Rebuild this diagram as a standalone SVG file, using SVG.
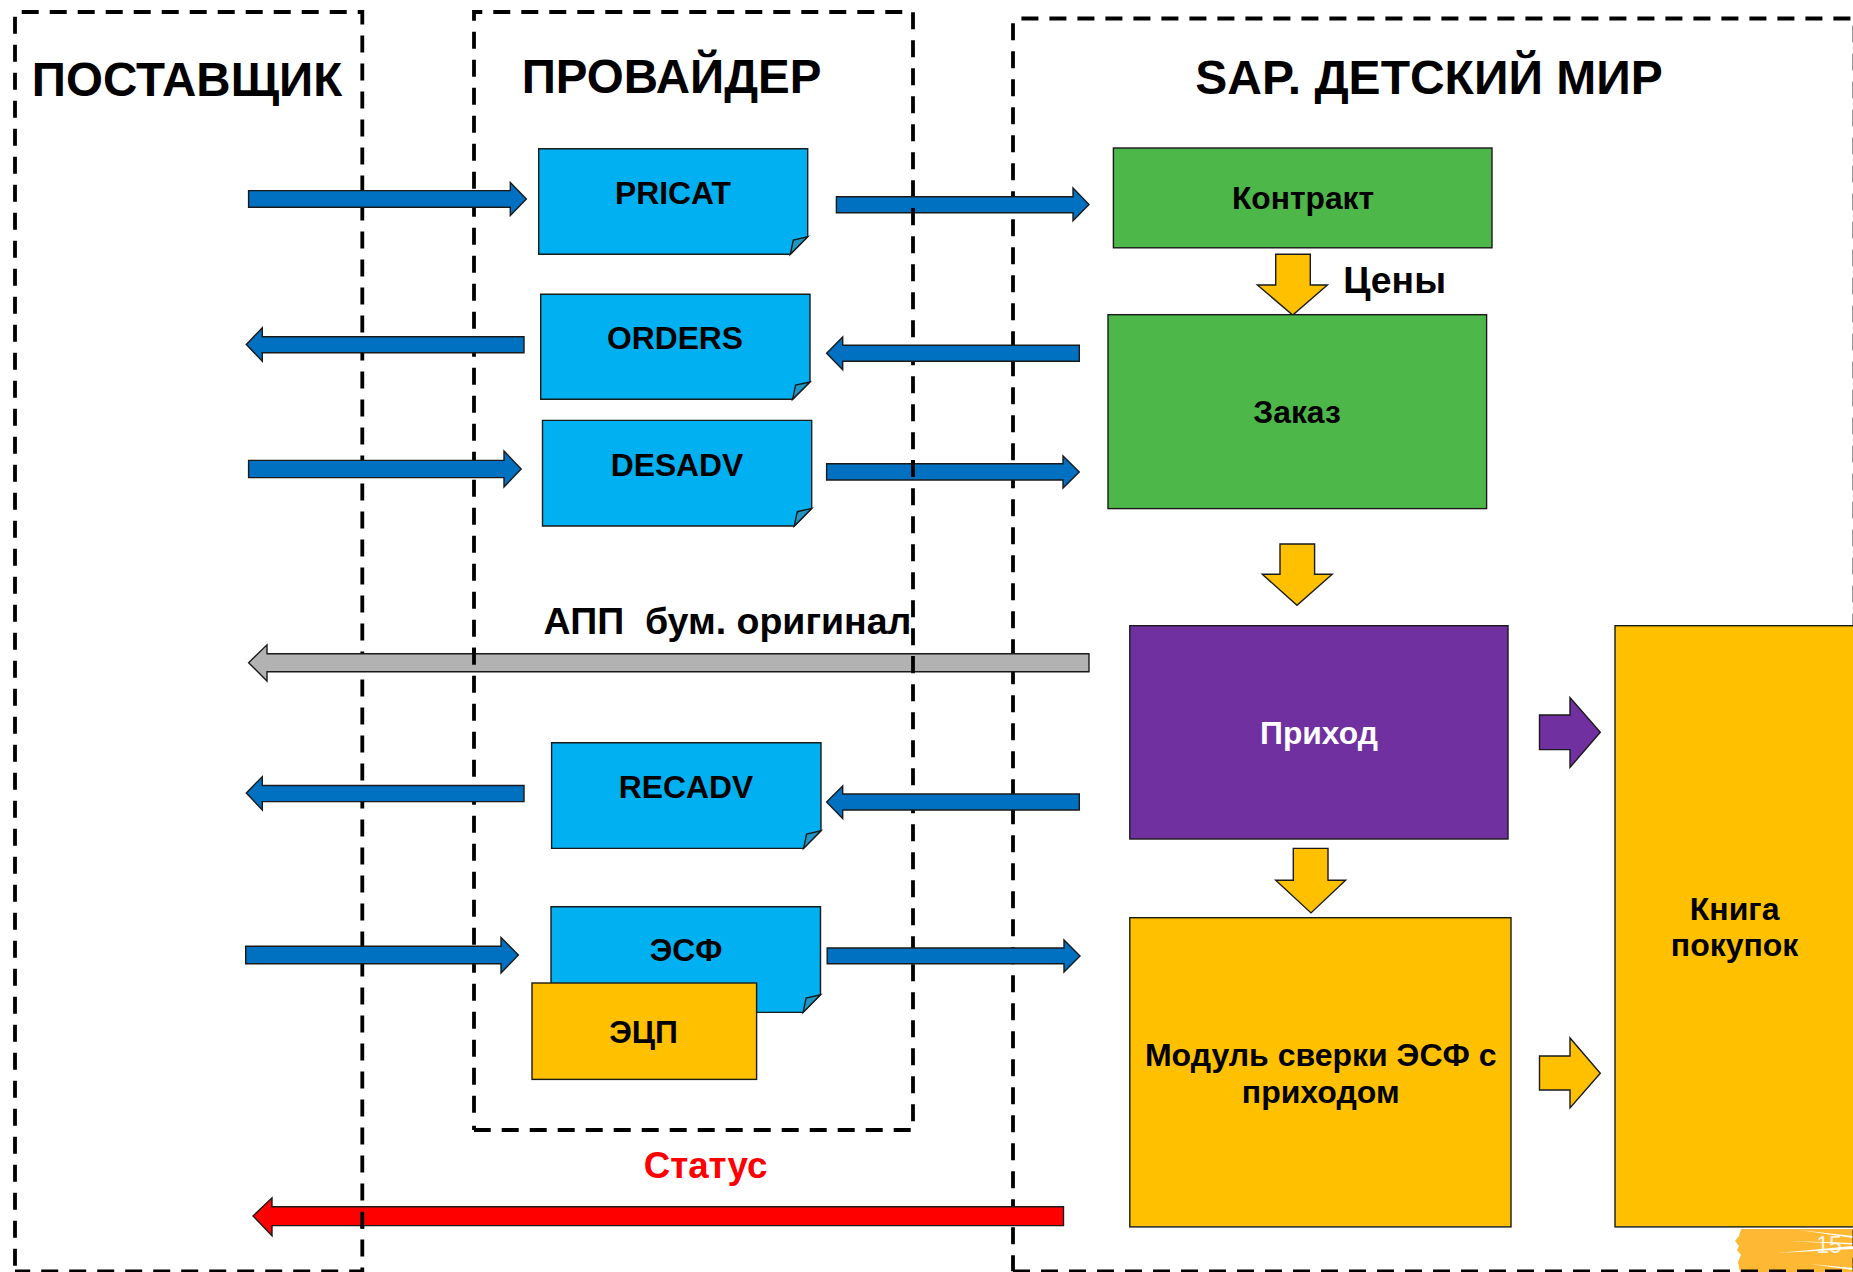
<svg xmlns="http://www.w3.org/2000/svg" width="1853" height="1272" viewBox="0 0 1853 1272">
<defs>
<style>
text{font-family:"Liberation Sans",Arial,sans-serif;font-weight:700;fill:#000;text-anchor:middle}
.t{font-size:47.5px}
.l{font-size:31.8px}
.m{font-size:32px}
.s{stroke:#1a1a1a;stroke-width:1.4}
.doc{fill:#00b0f0}
.fold{fill:#1f97c4}
.ar{fill:#0070c0;stroke:#1a1a1a;stroke-width:1.4}
.yl{fill:#ffc000}
.gr{fill:#4eb74a}
.pu{fill:#7030a0}
.bx{fill:none;stroke:#000;stroke-width:3.8;stroke-dasharray:17 11}
.ov{fill:none;stroke:#000;stroke-width:3.8}
</style>
</defs>
<rect width="1853" height="1272" fill="#fff"/>
<g id="page-mark">
<path d="M1741,1229L1853,1229L1853,1272L1740,1272L1738,1262L1741,1255L1737,1250L1739,1246L1735,1241L1739,1236Z" fill="#ffb833"/>
<path d="M1799,1230L1853,1236L1853,1238ZM1789,1241L1853,1243L1853,1244.5ZM1777,1253L1853,1246L1853,1249ZM1810,1264L1853,1268L1853,1270Z" fill="#fff"/>
<text x="1829" y="1253" style="font-size:23px;font-weight:400;fill:#fff;fill-opacity:.85">15</text>
</g>
<g id="supplier"><path class="bx" d="M21.7,12H362.3V1271.3H15M15,1265.7V14"/><text class="t" x="187" y="96">ПОСТАВЩИК</text></g>
<g id="provider"><path class="bx" d="M474,20.7V12H913V1130H474M474,1112.7V24M474,1130V1125.7"/><text class="t" x="671.5" y="93.3">ПРОВАЙДЕР</text></g>
<g id="sap"><path class="bx" d="M1021.4,18.5H1854.5V1271.3M1013,23.3V1271.3M1013,1271.3H1853"/><text class="t" x="1429" y="94" style="font-size:48px">SAP. ДЕТСКИЙ МИР</text></g>
<g id="connectors">
<polygon class="ar" points="248.6,190.6 510.3,190.6 510.3,182.4 526.4,199 510.3,215.5 510.3,207.3 248.6,207.3"/>
<polygon class="ar" points="836.4,196.7 1073,196.7 1073,188 1089,204.5 1073,220.8 1073,212.7 836.4,212.7"/>
<polygon class="ar" points="524,336.7 262.3,336.7 262.3,327.8 246.3,344.5 262.3,361.2 262.3,352.7 524,352.7"/>
<polygon class="ar" points="1079.3,345.3 842.7,345.3 842.7,337 826.6,353.3 842.7,369.8 842.7,361.2 1079.3,361.2"/>
<polygon class="ar" points="248.6,460.4 504,460.4 504,451 521.2,469 504,487 504,477.6 248.6,477.6"/>
<polygon class="ar" points="826.6,463.7 1063,463.7 1063,456 1079.3,472 1063,488 1063,480 826.6,480"/>
<polygon class="ar" style="fill:#b2b2b2" points="1089,653.7 267,653.7 267,644.8 248.6,662.7 267,681 267,671.8 1089,671.8"/>
<polygon class="ar" points="524,785.5 262.3,785.5 262.3,776.6 246.3,793 262.3,810 262.3,801.6 524,801.6"/>
<polygon class="ar" points="1079.3,794 842.7,794 842.7,786 826.6,802 842.7,818.5 842.7,810 1079.3,810"/>
<polygon class="ar" points="245.7,946.3 501,946.3 501,937.5 518.4,955 501,973 501,963.7 245.7,963.7"/>
<polygon class="ar" points="827.2,948 1064,948 1064,940 1080,956 1064,972 1064,963.7 827.2,963.7"/>
<polygon class="ar" style="fill:#f00" points="1063.5,1206.7 272,1206.7 272,1197.8 253,1216 272,1235.7 272,1225.6 1063.5,1225.6"/>
<polygon class="ar yl" points="1275.7,254.3 1310.3,254.3 1310.3,285 1327.4,285 1292.7,315 1257.4,285 1275.7,285"/>
<polygon class="ar yl" points="1280,544 1314.6,544 1314.6,574.3 1332.2,574.3 1297,605.3 1262.3,574.3 1280,574.3"/>
<polygon class="ar yl" points="1293.3,848.4 1328,848.4 1328,880.2 1345.6,880.2 1311,912.9 1275.7,880.2 1293.3,880.2"/>
<polygon class="ar pu" points="1539.5,715 1570,715 1570,697.6 1600.3,732.3 1570,767.4 1570,749.6 1539.5,749.6"/>
<polygon class="ar yl" points="1539.5,1056 1570,1056 1570,1038 1600.3,1073.3 1570,1108 1570,1090 1539.5,1090"/>
</g>
<g id="dash-overlaps"><path class="ov" d="M362.3,1211.7V1228.7M474,647.7V664.7M913,656V672M913,208V213M913,460V477"/></g>
<g id="pricat"><polygon class="doc s" points="538.7,148.7 807.7,148.7 807.7,236.7 790.3,254.3 538.7,254.3"/><polygon class="fold s" points="790.3,254.3 793.3,240 807.7,236.7"/><text class="l" x="673" y="204">PRICAT</text></g>
<g id="orders"><polygon class="doc s" points="540.7,294.3 810,294.3 810,382 792.6,399.3 540.7,399.3"/><polygon class="fold s" points="792.6,399.3 795.6,385 810,382"/><text class="l" x="675" y="349">ORDERS</text></g>
<g id="desadv"><polygon class="doc s" points="542.5,420.4 811.7,420.4 811.7,508.4 794.3,526 542.5,526"/><polygon class="fold s" points="794.3,526 797.3,511.7 811.7,508.4"/><text class="l" x="677" y="475.5">DESADV</text></g>
<g id="recadv"><polygon class="doc s" points="551.6,742.8 821,742.8 821,830.8 803.6,848.4 551.6,848.4"/><polygon class="fold s" points="803.6,848.4 806.6,834.1 821,830.8"/><text class="l" x="686" y="798">RECADV</text></g>
<g id="esf"><polygon class="doc s" points="551,906.8 820.5,906.8 820.5,994.8 803.1,1012.4 551,1012.4"/><polygon class="fold s" points="803.1,1012.4 806.1,998.1 820.5,994.8"/><text class="l" x="686" y="961.4">ЭСФ</text></g>
<g id="ecp"><rect class="yl s" x="532" y="983" width="224.6" height="96.4"/><text class="l" x="643.5" y="1043">ЭЦП</text></g>
<g id="contract"><rect class="gr s" x="1113.4" y="148" width="378.6" height="99.8"/><text class="l" x="1303" y="208.6">Контракт</text></g>
<g id="order"><rect class="gr s" x="1108" y="314.7" width="378.6" height="193.9"/><text class="l" x="1297" y="423.4">Заказ</text></g>
<g id="receipt"><rect class="pu s" x="1129.8" y="625.7" width="378.2" height="213.3"/><text class="l" x="1319" y="744" style="fill:#fff">Приход</text></g>
<g id="module"><rect class="yl s" x="1129.8" y="917.7" width="381.2" height="309.2"/><text class="m" x="1320.7" y="1066">Модуль сверки ЭСФ с</text><text class="m" x="1320.7" y="1102.5">приходом</text></g>
<g id="book"><rect class="yl s" x="1615" y="625.7" width="239" height="601.2"/><text class="m" x="1734.6" y="920">Книга</text><text class="m" x="1734.6" y="956">покупок</text></g>
<g id="labels">
<text x="1394.6" y="292.5" style="font-size:37.3px">Цены</text>
<text x="727.5" y="634" style="font-size:37.5px;white-space:pre">АПП  бум. оригинал</text>
<text x="705.5" y="1178" style="font-size:36.7px;fill:#f00">Статус</text>
</g>
</svg>
